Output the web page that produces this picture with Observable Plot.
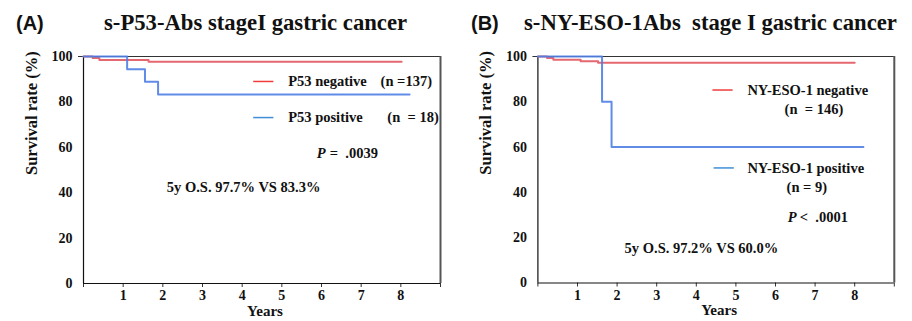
<!DOCTYPE html>
<html>
<head>
<meta charset="utf-8">
<script src="https://cdn.jsdelivr.net/npm/d3@7"></script>
<script src="https://cdn.jsdelivr.net/npm/@observablehq/plot@0.6"></script>
<style>
  html, body { margin: 0; padding: 0; background: #fff; }
  #wrap { position: relative; width: 912px; height: 321px; overflow: hidden; }
  .panel { position: absolute; top: 0; width: 456px; height: 321px; }
  .tag { position: absolute; top: 12px; font: bold 20px "Liberation Sans", Arial, sans-serif; color: #111; }
  .title { position: absolute; top: 10px; font: bold 22.7px "Liberation Serif", "Times New Roman", serif; color: #111; white-space: pre; }
  .panel svg { position: absolute; left: 0; top: 0; }
</style>
</head>
<body>
<div id="wrap">
  <div class="panel" id="pa" style="left:0">
    <div class="tag" style="left:16px">(A)</div>
    <div class="title" style="left:104px">s-P53-Abs stageI gastric cancer</div>
  </div>
  <div class="panel" id="pb" style="left:456px">
    <div class="tag" style="left:15px">(B)</div>
    <div class="title" style="left:68px">s-NY-ESO-1Abs  stage I gastric cancer</div>
  </div>
</div>
<script>
// ---- Data ----
const years = [0, 1, 2, 3, 4, 5, 6, 7, 8, 9];
const yTicks = [0, 20, 40, 60, 80, 100];

// Panel A: s-P53-Abs
const p53NegTime = [0, 0.23, 0.40, 1.64, 8.02];
const p53NegSurv = [100, 99.3, 98.5, 97.7, 97.7];
const p53PosTime = [0, 1.10, 1.55, 1.88, 8.22];
const p53PosSurv = [100, 94.4, 88.9, 83.3, 83.3];

// Panel B: s-NY-ESO-1Abs
const nyNegTime = [0, 0.23, 0.39, 1.08, 1.52, 8.0];
const nyNegSurv = [100, 99.3, 98.6, 97.9, 97.2, 97.2];
const nyPosTime = [0, 1.62, 1.86, 8.22];
const nyPosSurv = [100, 80, 60, 60];

const RED = "#e2565f";
const BLUE = "#4f7fe6";
const FONT = "'Liberation Serif', 'Times New Roman', serif";

function toRows(t, s) { return t.map((x, i) => ({x, y: s[i]})); }

function fixFonts(svg) {
  svg.style.fontFamily = FONT;
  svg.style.fontWeight = "bold";
  svg.querySelectorAll("text").forEach(t => {
    t.style.fontFamily = FONT;
    t.style.fontWeight = "bold";
  });
  svg.querySelectorAll("[font-size]").forEach(el => {
    el.style.fontSize = el.getAttribute("font-size") + "px";
  });
  svg.querySelectorAll("[font-style]").forEach(el => {
    el.style.fontStyle = el.getAttribute("font-style");
  });
  svg.querySelectorAll('g[aria-label="x-axis tick label"], g[aria-label="y-axis tick label"]').forEach(g => {
    g.querySelectorAll("text").forEach(t => { t.style.fill = "#111"; });
  });
  return svg;
}

function panel(opts) {
  const txt = (o) => Plot.text([o.text], {
    x: o.x, y: o.y, text: d => d, textAnchor: "start", lineAnchor: "middle",
    fontSize: 14.5, fontWeight: "bold", fontStyle: o.italic ? "italic" : "normal",
    fill: "#111", dx: o.dx || 0
  });
  const svg = Plot.plot({
    width: 456, height: 321,
    marginLeft: opts.ml, marginRight: opts.mr, marginTop: 56, marginBottom: opts.mb,
    style: {background: "transparent", overflow: "visible", color: "#111"},
    x: {domain: [0, 9]},
    y: {domain: [0, 100]},
    marks: [
      Plot.axisX({ticks: years, tickFormat: d => (d >= 1 && d <= 8) ? d : "", tickSize: 4, tickPadding: 3, label: null, stroke: "#333", fontSize: 14}),
      Plot.axisY({ticks: yTicks, tickSize: 0, tickPadding: 11, label: null, fontSize: 14}),
      Plot.ruleY([100], {stroke: "#333", strokeWidth: 1.2, insetLeft: -5}),
      Plot.ruleX([9], {stroke: "#555", strokeWidth: 2}),
      Plot.ruleX([0], {stroke: "#111", strokeWidth: 1.2}),
      Plot.ruleY([0], {stroke: "#111", strokeWidth: 1.2}),
      Plot.line(toRows(opts.negT, opts.negS), {x: "x", y: "y", curve: "step-after", stroke: RED, strokeWidth: 2, strokeOpacity: 0.9}),
      Plot.line(toRows(opts.posT, opts.posS), {x: "x", y: "y", curve: "step-after", stroke: BLUE, strokeWidth: 2, strokeOpacity: 0.9}),
      // legend swatches
      Plot.ruleY([opts.legNegY], {x1: opts.swatch[0], x2: opts.swatch[1], stroke: "#f03c3c", strokeWidth: 1.5}),
      Plot.ruleY([opts.legPosY], {x1: opts.swatch[0] + opts.swatchShift, x2: opts.swatch[1] + opts.swatchShift, stroke: "#3f8fd8", strokeWidth: 1.5}),
      ...opts.texts.map(txt),
      Plot.text(["Years"], {frameAnchor: "bottom", dy: 32, dx: 3, fontSize: 15, fontWeight: "bold", fill: "#111"}),
      Plot.text(["Survival rate (%)"], {frameAnchor: "left", dx: -52, dy: 5, rotate: -90, fontSize: 16.5, fontWeight: "bold", fill: "#111"})
    ]
  });
  return fixFonts(svg);
}

const a = panel({
  ml: 83, mr: 16, mb: 38,
  negT: p53NegTime, negS: p53NegSurv, posT: p53PosTime, posS: p53PosSurv,
  legNegY: 89.0, legPosY: 73.1, swatch: [4.29, 4.80], swatchShift: 0,
  texts: [
    {text: "P53 negative", x: 5.16, y: 89.0},
    {text: "(n =137)", x: 7.49, y: 89.0},
    {text: "P53 positive", x: 5.16, y: 73.1},
    {text: "(n  = 18)", x: 7.66, y: 73.1},
    {text: "P", x: 5.88, y: 57.4, italic: true},
    {text: "=  .0039", x: 5.88, y: 57.4, dx: 13},
    {text: "5y O.S. 97.7% VS 83.3%", x: 2.10, y: 42.3}
  ]
});
document.getElementById("pa").appendChild(a);

const b = panel({
  ml: 81.4, mr: 18.2, mb: 38.5,
  negT: nyNegTime, negS: nyNegSurv, posT: nyPosTime, posS: nyPosSurv,
  legNegY: 85.2, legPosY: 50.8, swatch: [4.42, 4.93], swatchShift: 0.03,
  texts: [
    {text: "NY-ESO-1 negative", x: 5.29, y: 85.2},
    {text: "(n  = 146)", x: 6.23, y: 76.5},
    {text: "NY-ESO-1 positive", x: 5.29, y: 50.8},
    {text: "(n = 9)", x: 6.28, y: 42.3},
    {text: "P", x: 6.31, y: 29.1, italic: true},
    {text: "<  .0001", x: 6.31, y: 29.1, dx: 12},
    {text: "5y O.S. 97.2% VS 60.0%", x: 2.19, y: 15.2}
  ]
});
document.getElementById("pb").appendChild(b);
</script>
</body>
</html>
